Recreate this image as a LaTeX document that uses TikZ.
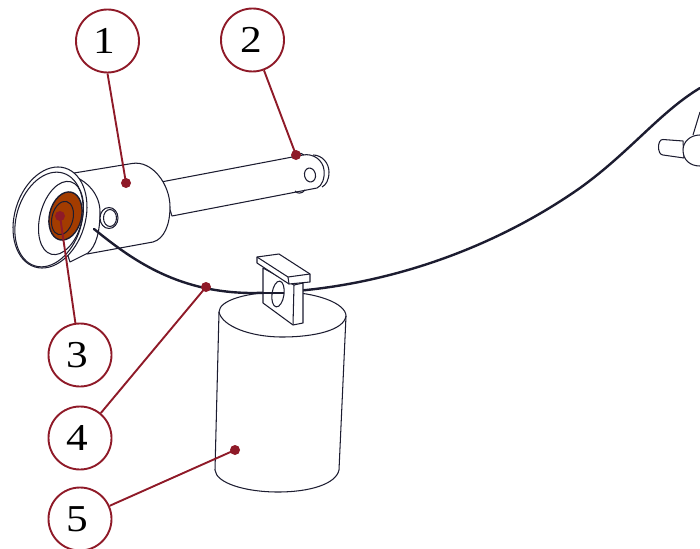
\documentclass[tikz,border=0pt]{standalone}
\usepackage{fontspec}
\setmainfont[FakeStretch=1.14]{Liberation Serif}
\definecolor{callred}{HTML}{8F1A28}
\definecolor{inkdark}{HTML}{1C1C30}
\definecolor{rust}{HTML}{A33C00}
\tikzset{
  part/.style={draw=inkdark,line width=1.05pt,line join=round},
  partfill/.style={part,fill=white},
  wire/.style={draw=inkdark,line width=2.4pt,line cap=round},
  callout/.style={circle,draw=callred,line width=1.9pt,fill=white,minimum size=63pt,inner sep=0pt,font=\fontsize{38}{38}\selectfont},
  leader/.style={draw=callred,line width=1.9pt},
  anchordot/.style={circle,fill=callred,minimum size=10pt,inner sep=0pt}
}
\newcommand{\digitleft}[2][6pt]{\kern-#1#2}
\begin{document}
\begin{tikzpicture}[x=1pt,y=-1pt]
\path[use as bounding box] (0,0) rectangle (700,548);
\clip (0,0) rectangle (700,548);
\fill[white] (0,0) rectangle (700,548);
% pin shaft
\draw[partfill] (161,182) -- (303,155) .. controls (313,153) and (323,160) .. (324,170) .. controls (325,178) and (322,186) .. (317,188) -- (172,216) -- cycle;
\draw[part] (313,155) .. controls (322,155) and (329,163) .. (329,172) .. controls (329,180) and (326,185) .. (322,187);
\draw[part] (292,157) .. controls (294,153) and (301,152) .. (304,155);
\draw[part] (295,191) .. controls (297,194) and (302,194) .. (305,190);
\draw[part,rotate around={12:(310,175)}] (310,175) ellipse [x radius=5.5,y radius=7];
% sleeve body
\draw[partfill] (68,174) -- (132,163.5) .. controls (152,160) and (170,184) .. (170,207) .. controls (170,225) and (164,239) .. (153,242) -- (87,254) -- cycle;
% flare
\draw[partfill] (68,174) .. controls (88,180) and (100,195) .. (100,212) .. controls (100,232) and (96,246) .. (88,253) -- (70,262) -- (50,200) -- cycle;
% small hole
\draw[partfill] (109,218) ellipse [x radius=9,y radius=10.5];
\draw[part] (110,218) ellipse [x radius=6.5,y radius=8.5];
% flange
\draw[partfill,rotate around={-17:(50,217.5)}] (50,217.5) ellipse [x radius=35.3,y radius=51.7];
\draw[part,rotate around={-17:(49,219.5)}] (49,219.5) ellipse [x radius=32.5,y radius=48.5];
\draw[part,rotate around={-15:(61,218)}] (61,218) ellipse [x radius=21,y radius=37.5];
% rust core
\draw[part,line width=1.4pt,fill=rust,rotate around={-14:(65.5,216)}] (65.5,216) ellipse [x radius=16,y radius=24.5];
\draw[part,rotate around={-14:(62.5,218)}] (62.5,218) ellipse [x radius=10.5,y radius=17];
% cylinder
\draw[partfill] (219,312) -- (215,470) .. controls (216,483) and (245,492) .. (278,492) .. controls (310,492) and (336,484) .. (339,470) -- (346,316) .. controls (346,303) and (315,292) .. (282,292) .. controls (248,292) and (219,300) .. (219,312) -- cycle;
\draw[part] (219,312) .. controls (222,326) and (250,337) .. (282,337) .. controls (315,337) and (344,330) .. (346,316);
% wire
\draw[wire] (94,229) .. controls (130,258) and (175,292) .. (250,293) .. controls (360,293) and (480,258) .. (580,188) .. controls (630,152) and (660,112) .. (700,88);
% bracket
\draw[partfill] (263,268) -- (263,303) -- (293,325) -- (303,323) -- (303,283) -- (294,285) -- cycle;
\draw[part] (294,285) -- (293,325);
\draw[partfill,rotate around={-8:(278,294)}] (278,294) ellipse [x radius=6,y radius=13];
\draw[draw=inkdark,line width=1.4pt] (263,293) -- (284,293);
\draw[partfill] (257,257) -- (279,254) -- (310,274) -- (310,282) -- (289,284) -- (257,263) -- cycle;
\draw[part] (257,257) -- (288,277) -- (310,274);
\draw[part] (288,277) -- (289,284);
% far-right knob
\draw[part] (693,135) -- (700,112);
\draw[partfill] (683,141) -- (663,139.5) .. controls (657,139) and (657,155) .. (663,155) -- (684,158) -- cycle;
\draw[partfill] (700,135) .. controls (690,135) and (683,142) .. (683,150) .. controls (683,160) and (690,166) .. (700,166);
% callouts
\coordinate (d1) at (126,183);
\coordinate (d2) at (296,155);
\coordinate (d3) at (60,216);
\coordinate (d4) at (206,287);
\coordinate (d5) at (235,450);
\node[callout] (c1) at (107.5,41) {\digitleft{1}};
\node[callout] (c2) at (252.5,40) {\digitleft[2.5pt]{2}};
\node[callout] (c3) at (80,355) {\digitleft{3}};
\node[callout] (c4) at (80,438) {\digitleft{4}};
\node[callout] (c5) at (80,519) {\digitleft{5}};
\node[anchordot] (p1) at (d1) {};
\node[anchordot] (p2) at (d2) {};
\node[anchordot] (p3) at (d3) {};
\node[anchordot] (p4) at (d4) {};
\node[anchordot] (p5) at (d5) {};
\draw[leader] (c1.south) -- (p1.center);
\draw[leader] (c2) -- (p2.center);
\draw[leader] (c3) -- (p3.center);
\draw[leader] (c4) -- (p4.center);
\draw[leader] (c5) -- (p5.center);
\end{tikzpicture}
\end{document}
